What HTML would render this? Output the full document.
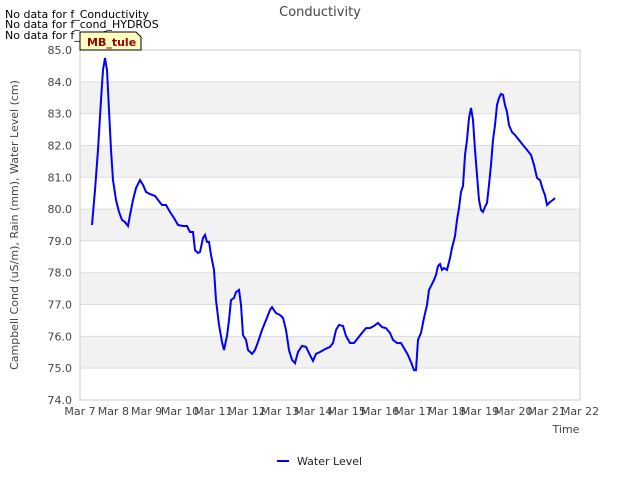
<!DOCTYPE html>
<html><head><meta charset="utf-8"><style>
body{margin:0;background:#fff;font-family:"Liberation Sans",sans-serif;}
svg text{font-family:"DejaVu Sans","Liberation Sans",sans-serif;}
</style></head><body>
<svg width="640" height="480" viewBox="0 0 640 480">
<g id="bands"></g>
<rect x="80" y="50" width="500" height="350" fill="none" stroke="#ccc"/>
<g id="axes"></g>
<path id="line" fill="none" stroke="#0000ff" stroke-width="2"/>
<text x="320" y="16" text-anchor="middle" font-size="13" fill="#444">Conductivity</text>
<text x="5" y="18" font-size="11" fill="#000">No data for f_Conductivity</text>
<text x="5" y="28" font-size="11" fill="#000">No data for f_cond_HYDROS</text>
<text x="5" y="39" font-size="11" fill="#000">No data for f_pct_?</text>
<g>
<path d="M80,32 L136,32 L141,37 L141,50 L80,50 Z" fill="#ffffc0" stroke="#000" stroke-width="1"/>
<text x="87" y="46" font-size="11" font-weight="bold" fill="#990000">MB_tule</text>
</g>
<text transform="translate(18,225) rotate(-90)" text-anchor="middle" font-size="11" fill="#444">Campbell Cond (uS/m), Rain (mm), Water Level (cm)</text>
<text x="566" y="433" text-anchor="middle" font-size="11" fill="#444">Time</text>
<g>
<line x1="277" y1="461" x2="289" y2="461" stroke="#0000ff" stroke-width="2"/>
<text x="297" y="465" font-size="11" fill="#222">Water Level</text>
</g>
</svg>
<script>
const days=[0.36,0.45,0.54,0.63,0.69,0.75,0.81,0.87,0.93,0.99,1.08,1.17,1.26,1.35,1.44,1.5,1.59,1.68,1.8,1.89,1.98,2.1,2.25,2.34,2.46,2.58,2.7,2.82,2.94,3.09,3.21,3.3,3.39,3.45,3.54,3.6,3.69,3.75,3.81,3.87,3.93,4.02,4.08,4.17,4.26,4.32,4.41,4.47,4.53,4.62,4.68,4.77,4.83,4.89,4.98,5.04,5.16,5.25,5.34,5.46,5.58,5.7,5.76,5.88,6.0,6.09,6.18,6.27,6.36,6.45,6.54,6.66,6.78,6.9,6.99,7.08,7.2,7.35,7.5,7.59,7.68,7.77,7.89,7.98,8.1,8.22,8.34,8.46,8.58,8.7,8.82,8.94,9.06,9.18,9.3,9.39,9.51,9.63,9.72,9.84,9.93,10.02,10.08,10.14,10.23,10.32,10.41,10.47,10.53,10.62,10.68,10.74,10.8,10.86,10.92,11.01,11.1,11.16,11.25,11.31,11.37,11.43,11.49,11.55,11.61,11.67,11.73,11.79,11.85,11.91,11.97,12.03,12.09,12.15,12.21,12.27,12.33,12.39,12.45,12.51,12.57,12.63,12.69,12.75,12.81,12.87,12.96,13.05,13.17,13.29,13.41,13.53,13.62,13.71,13.8,13.89,13.95,14.01,14.1,14.19,14.25];
const waterLevel=[79.50,80.60,81.86,83.43,84.37,84.75,84.37,83.11,81.86,80.91,80.29,79.91,79.66,79.59,79.47,79.81,80.29,80.66,80.91,80.76,80.54,80.47,80.41,80.29,80.13,80.13,79.91,79.72,79.50,79.47,79.47,79.28,79.28,78.71,78.62,78.65,79.09,79.19,78.97,78.97,78.56,78.09,77.14,76.36,75.82,75.57,76.01,76.51,77.14,77.21,77.39,77.46,76.99,76.04,75.89,75.57,75.45,75.57,75.82,76.20,76.51,76.83,76.92,76.73,76.67,76.58,76.20,75.57,75.26,75.16,75.51,75.70,75.67,75.41,75.23,75.45,75.51,75.60,75.67,75.79,76.20,76.36,76.33,76.01,75.79,75.79,75.95,76.11,76.26,76.26,76.33,76.42,76.29,76.26,76.11,75.89,75.79,75.79,75.63,75.41,75.19,74.94,74.94,75.89,76.11,76.58,76.99,77.46,77.58,77.77,77.93,78.21,78.27,78.09,78.15,78.09,78.46,78.78,79.15,79.66,80.03,80.54,80.73,81.70,82.17,82.86,83.18,82.80,81.86,81.07,80.29,79.97,79.91,80.07,80.19,80.76,81.39,82.17,82.64,83.27,83.49,83.62,83.59,83.27,83.05,82.64,82.42,82.33,82.17,82.01,81.86,81.70,81.39,80.98,80.91,80.60,80.44,80.13,80.22,80.29,80.35];
const yTicks=[74,75,76,77,78,79,80,81,82,83,84,85];
const xTickLabels=["Mar 7","Mar 8","Mar 9","Mar 10","Mar 11","Mar 12","Mar 13","Mar 14","Mar 15","Mar 16","Mar 17","Mar 18","Mar 19","Mar 20","Mar 21","Mar 22"];
const NS="http://www.w3.org/2000/svg";
const X=d=>80+d*500/15, Y=v=>400-(v-74)*350/11;
const bands=document.getElementById('bands'), axes=document.getElementById('axes');
for(let i=0;i<yTicks.length-1;i++){
 const lo=yTicks[i];
 const r=document.createElementNS(NS,'rect');
 r.setAttribute('x',80);r.setAttribute('width',500);
 r.setAttribute('y',Y(lo+1));r.setAttribute('height',Y(lo)-Y(lo+1));
 r.setAttribute('fill',lo%2===1?'#f2f2f2':'#ffffff');
 
 
 bands.appendChild(r);
}
yTicks.forEach(v=>{
 const l=document.createElementNS(NS,'line');
 l.setAttribute('x1',80);l.setAttribute('x2',580);l.setAttribute('y1',Y(v));l.setAttribute('y2',Y(v));
 l.setAttribute('stroke','#dddddd');
 
 
 bands.appendChild(l);
 const t=document.createElementNS(NS,'text');
 t.setAttribute('x',72);t.setAttribute('y',Y(v)+4);t.setAttribute('text-anchor','end');
 t.setAttribute('font-size','11');t.setAttribute('fill','#444');
 t.textContent=v.toFixed(1);
 
 
 axes.appendChild(t);
});
xTickLabels.forEach((s,i)=>{
 const t=document.createElementNS(NS,'text');
 t.setAttribute('x',X(i));t.setAttribute('y',415);t.setAttribute('text-anchor','middle');
 t.setAttribute('font-size','11');t.setAttribute('fill','#444');
 t.textContent=s;
 
 
 axes.appendChild(t);
});
document.getElementById('line').setAttribute('d',days.map((d,i)=>(i?'L':'M')+X(d).toFixed(1)+','+Y(waterLevel[i]).toFixed(1)).join(''));
</script>
</body></html>
